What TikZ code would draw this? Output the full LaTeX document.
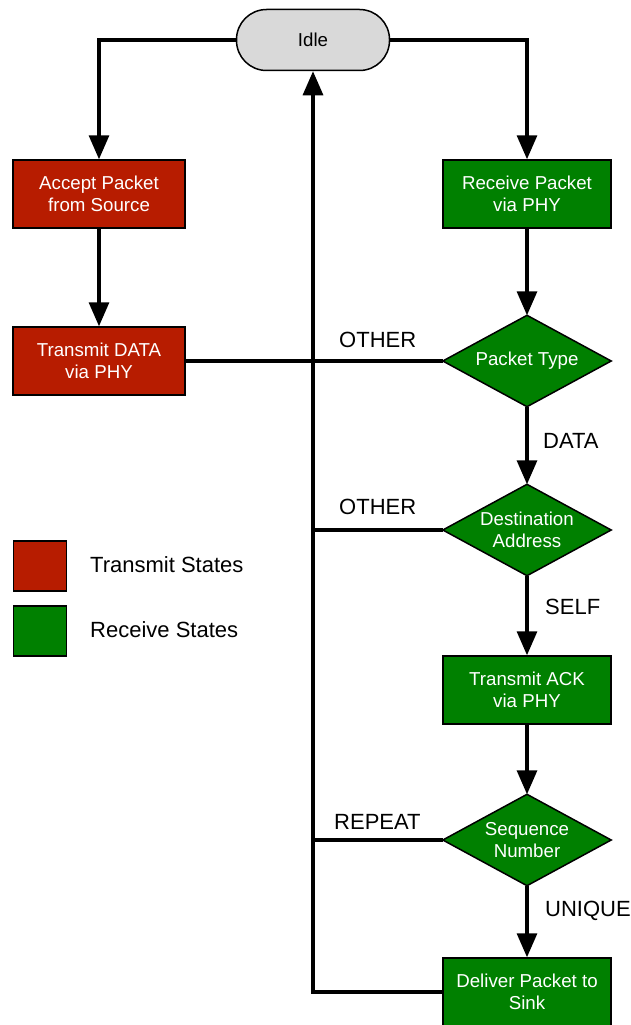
\documentclass[tikz,border=0pt]{standalone}
\usepackage{fontspec}
\setmainfont{Liberation Sans}
\usetikzlibrary{arrows.meta,backgrounds}
\definecolor{txred}{HTML}{B71C00}
\definecolor{rxgreen}{HTML}{008000}
\definecolor{idlegray}{HTML}{D9D9D9}
\begin{document}
\begin{tikzpicture}[x=1pt,y=-1pt,
  boxtxt/.style={font=\fontsize{18.7}{22.5}\selectfont},
  lbl/.style={font=\fontsize{22}{24}\selectfont, anchor=west, inner sep=0pt},
  state/.style={draw=black, line width=1.5pt, minimum height=68pt, inner sep=0pt, align=center, text=white, boxtxt},
  tx/.style={state, fill=txred, minimum width=172pt},
  rx/.style={state, fill=rxgreen, minimum width=168pt},
  dia/.style={minimum width=168pt, minimum height=91pt, inner sep=0pt, align=center, text=white, boxtxt},
  legbox/.style={draw=black, line width=1.5pt, minimum width=53pt, minimum height=50pt, inner sep=0pt},
  conn/.style={line width=3.2pt},
  arr/.style={conn, -{Triangle[length=24pt,width=20pt]}}
]
\useasboundingbox (0,0) rectangle (631,1025);

% nodes
\node[draw=black, line width=1.5pt, fill=idlegray, rounded corners=30pt, minimum width=153pt, minimum height=61pt, inner sep=0pt, boxtxt] (idle) at (313,40) {Idle};
\node[tx] (accept) at (99,194) {Accept Packet\\from Source};
\node[tx] (txdata) at (99,361) {Transmit DATA\\via PHY};
\node[rx] (recv) at (527,194) {Receive Packet\\via PHY};
\node[dia] (ptype) at (527,361) {Packet Type};
\node[dia] (dest) at (527,530) {Destination\\Address};
\node[rx] (txack) at (527,690) {Transmit ACK\\via PHY};
\node[dia] (seq) at (527,840) {Sequence\\Number};
\node[rx] (deliver) at (527,992) {Deliver Packet to\\Sink};

\begin{pgfonlayer}{background}
  \foreach \n in {ptype,dest,seq}
    \draw[fill=rxgreen, line width=1.5pt, line join=miter] (\n.north) -- (\n.east) -- (\n.south) -- (\n.west) -- cycle;
\end{pgfonlayer}

% connectors
\draw[arr] (idle.west) -| (accept.north);
\draw[arr] (idle.east) -| (recv.north);
\draw[arr] (accept.south) -- (txdata.north);
\draw[arr] (recv.south) -- (ptype.north);
\draw[arr] (ptype.south) -- (dest.north);
\draw[arr] (dest.south) -- (txack.north);
\draw[arr] (txack.south) -- (seq.north);
\draw[arr] (seq.south) -- (deliver.north);
\draw[arr] (deliver.west) -| (idle.south);
\draw[conn] (txdata.east) -- (ptype.west);
\draw[conn] (dest.west) -- (dest.west -| idle.south);
\draw[conn] (seq.west) -- (seq.west -| idle.south);

% labels
\node[lbl] (l1) at (339,340) {OTHER};
\node[lbl] (l2) at (339,507) {OTHER};
\node[lbl] (l3) at (334,822) {REPEAT};
\node[lbl] (l4) at (543,441) {DATA};
\node[lbl] (l5) at (545,607) {SELF};
\node[lbl] (l6) at (545,911) {UNIQUE};

% legend
\node[legbox, fill=txred] (legtx) at (40,566) {};
\node[legbox, fill=rxgreen] (legrx) at (40,631) {};
\node[lbl] (legtxt1) at (90,565) {Transmit States};
\node[lbl] (legtxt2) at (90,630) {Receive States};
\end{tikzpicture}
\end{document}
